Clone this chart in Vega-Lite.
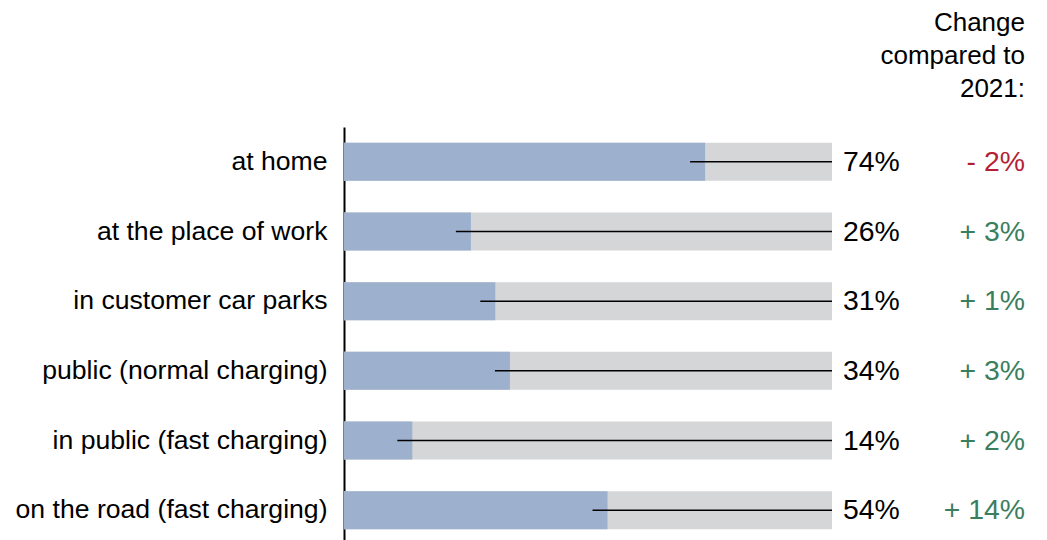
{
  "$schema": "https://vega.github.io/schema/vega-lite/v6.json",
  "width": 488,
  "height": 418,
  "autosize": {"type": "none"},
  "padding": {"left": 344, "top": 127, "right": 215, "bottom": 0},
  "background": "white",
  "title": {
    "text": ["Change", "compared to", "2021:"],
    "orient": "top",
    "anchor": "end",
    "frame": "group",
    "align": "right",
    "dx": 193,
    "baseline": "bottom",
    "offset": -1,
    "fontSize": 26,
    "lineHeight": 33,
    "font": "Liberation Sans",
    "fontWeight": "normal",
    "color": "#000000"
  },
  "data": {
    "values": [
      {"location": "at home", "share": 0.74, "change": "- 2%", "direction": "down"},
      {"location": "at the place of work", "share": 0.26, "change": "+ 3%", "direction": "up"},
      {"location": "in customer car parks", "share": 0.31, "change": "+ 1%", "direction": "up"},
      {"location": "public (normal charging)", "share": 0.34, "change": "+ 3%", "direction": "up"},
      {"location": "in public (fast charging)", "share": 0.14, "change": "+ 2%", "direction": "up"},
      {"location": "on the road (fast charging)", "share": 0.54, "change": "+ 14%", "direction": "up"}
    ]
  },
  "encoding": {
    "y": {
      "field": "location",
      "type": "nominal",
      "sort": null,
      "scale": {"paddingInner": 0, "paddingOuter": 0},
      "axis": {
        "title": null,
        "ticks": false,
        "labelPadding": 17,
        "labelLimit": 0,
        "labelFont": "Liberation Sans",
        "labelFontSize": 26.6,
        "labelColor": "#000000",
        "domainColor": "#000000",
        "domainWidth": 2,
        "grid": false
      }
    }
  },
  "layer": [
    {
      "mark": {"type": "bar", "color": "#D5D6D8", "height": {"band": 0.545}},
      "encoding": {
        "x": {"datum": 0, "type": "quantitative", "scale": {"domain": [0, 1]}, "axis": null},
        "x2": {"datum": 1}
      }
    },
    {
      "mark": {"type": "bar", "color": "#9DB0CE", "height": {"band": 0.545}},
      "encoding": {
        "x": {"field": "share", "type": "quantitative", "scale": {"domain": [0, 1]}, "axis": null}
      }
    },
    {
      "mark": {"type": "rule", "color": "#000000", "strokeWidth": 1.5, "xOffset": -15, "x2Offset": 0},
      "encoding": {
        "x": {"field": "share", "type": "quantitative"},
        "x2": {"datum": 1}
      }
    },
    {
      "mark": {"type": "text", "align": "left", "baseline": "middle", "dx": 11, "fontSize": 28.4, "font": "Liberation Sans", "color": "#000000"},
      "encoding": {
        "x": {"datum": 1, "type": "quantitative"},
        "text": {"field": "share", "type": "quantitative", "format": ".0%"}
      }
    },
    {
      "mark": {"type": "text", "align": "right", "baseline": "middle", "dx": 193, "fontSize": 28.4, "font": "Liberation Sans"},
      "encoding": {
        "x": {"datum": 1, "type": "quantitative"},
        "text": {"field": "change"},
        "color": {
          "field": "direction",
          "type": "nominal",
          "scale": {"domain": ["down", "up"], "range": ["#B51F35", "#3B7E5E"]},
          "legend": null
        }
      }
    }
  ],
  "config": {"view": {"stroke": null}}
}
